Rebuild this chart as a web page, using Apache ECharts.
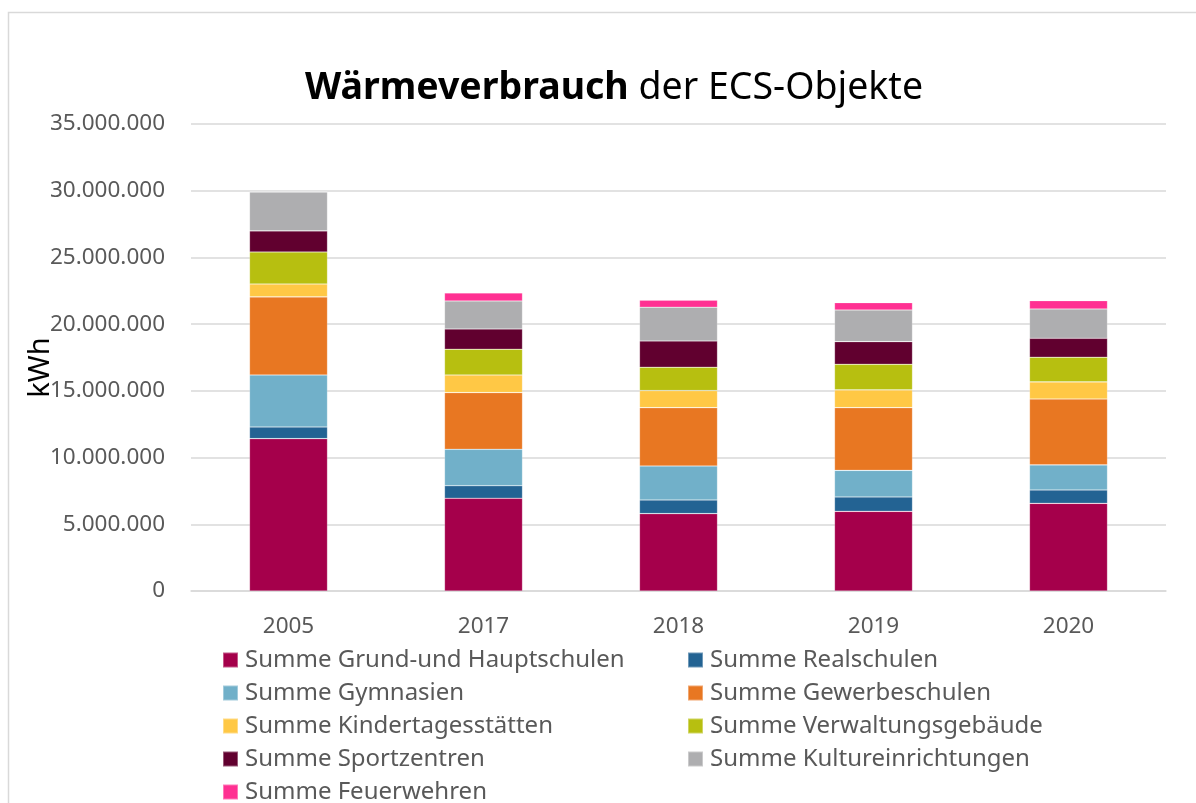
<!DOCTYPE html>
<html>
<head>
<meta charset="utf-8">
<script src="https://cdn.jsdelivr.net/npm/echarts@6/dist/echarts.min.js"></script>
<style>
  html, body { margin: 0; padding: 0; background: #fff; }
  #chart { width: 1196px; height: 803px; }
</style>
</head>
<body>
<div id="chart"></div>
<script>
// Jahre
var years = ['2005', '2017', '2018', '2019', '2020'];

// Werte in kWh
var grundHaupt   = [11420000, 6950000, 5800000, 5970000, 6570000];
var realschulen  = [870000, 940000, 1020000, 1080000, 1000000];
var gymnasien    = [3900000, 2730000, 2550000, 1990000, 1880000];
var gewerbe      = [5850000, 4250000, 4370000, 4700000, 4940000];
var kita         = [970000, 1320000, 1280000, 1330000, 1280000];
var verwaltung   = [2400000, 1930000, 1750000, 1920000, 1850000];
var sport        = [1580000, 1520000, 1970000, 1700000, 1420000];
var kultur       = [2920000, 2100000, 2530000, 2370000, 2200000];
var feuerwehr    = [0, 600000, 520000, 550000, 620000];

var yTicks = { min: 0, max: 35000000, interval: 5000000 };

var seriesDefs = [
  { name: 'Summe Grund-und Hauptschulen', data: grundHaupt, color: '#A5004B' },
  { name: 'Summe Realschulen', data: realschulen, color: '#236393' },
  { name: 'Summe Gymnasien', data: gymnasien, color: '#71B0C9' },
  { name: 'Summe Gewerbeschulen', data: gewerbe, color: '#E87722' },
  { name: 'Summe Kindertagesstätten', data: kita, color: '#FFC845' },
  { name: 'Summe Verwaltungsgebäude', data: verwaltung, color: '#B7BF10' },
  { name: 'Summe Sportzentren', data: sport, color: '#61002F' },
  { name: 'Summe Kultureinrichtungen', data: kultur, color: '#AEAEB0' },
  { name: 'Summe Feuerwehren', data: feuerwehr, color: '#FF3092' }
];

var font = '"Noto Sans", "Open Sans", sans-serif';

function fmt(v) {
  return String(v).replace(/\B(?=(\d{3})+(?!\d))/g, '.');
}

var chart = echarts.init(document.getElementById('chart'));

var legendStyle = {
  orient: 'vertical',
  height: 200,
  padding: 0,
  itemWidth: 15,
  itemHeight: 15,
  itemGap: 9,
  icon: 'rect',
  textStyle: { color: '#595959', fontSize: 24, fontFamily: font, padding: [0, 0, 0, 2] }
};

var option = {
  backgroundColor: '#fff',
  animation: false,
  title: {
    text: '{b|Wärmeverbrauch}{r| der ECS-Objekte}',
    left: 609,
    textAlign: 'center',
    top: 64,
    textStyle: {
      rich: {
        b: { fontSize: 37.5, fontWeight: 'bold', color: '#000', fontFamily: font },
        r: { fontSize: 37.5, fontWeight: 'normal', color: '#000', fontFamily: font }
      }
    }
  },
  graphic: [{
    type: 'polyline',
    shape: { points: [[8.5, 810], [8.5, 12.5], [1200, 12.5]] },
    style: { stroke: '#d9d9d9', lineWidth: 1.5, fill: null },
    silent: true
  }],
  legend: [
    Object.assign({
      left: 222, top: 648,
      data: ['Summe Grund-und Hauptschulen', 'Summe Gymnasien', 'Summe Kindertagesstätten', 'Summe Sportzentren', 'Summe Feuerwehren']
    }, legendStyle),
    Object.assign({
      left: 687, top: 648,
      data: ['Summe Realschulen', 'Summe Gewerbeschulen', 'Summe Verwaltungsgebäude', 'Summe Kultureinrichtungen']
    }, legendStyle)
  ],
  grid: { left: 191, right: 30, top: 124, bottom: 212, containLabel: false },
  xAxis: {
    type: 'category',
    data: years,
    axisLine: { show: true, lineStyle: { color: '#d9d9d9', width: 1.5 } },
    axisTick: { show: false },
    axisLabel: { color: '#595959', fontSize: 22.5, fontFamily: font, margin: 24 }
  },
  yAxis: {
    type: 'value',
    min: yTicks.min,
    max: yTicks.max,
    interval: yTicks.interval,
    name: 'kWh',
    nameLocation: 'middle',
    nameGap: 136,
    nameMoveOverlap: false,
    nameRotate: 90,
    nameTextStyle: { color: '#000', fontSize: 29, fontFamily: font, padding: [0, 20, 0, 0] },
    axisLine: { show: false },
    axisTick: { show: false },
    axisLabel: { color: '#595959', fontSize: 22.5, fontFamily: font, margin: 26, formatter: fmt },
    splitLine: { lineStyle: { color: '#d9d9d9', width: 1.5 } }
  },
  series: seriesDefs.map(function (s) {
    return {
      name: s.name,
      type: 'bar',
      stack: 'total',
      barWidth: 78,
      data: s.data,
      itemStyle: { color: s.color, borderColor: 'rgba(255,255,255,0.35)', borderWidth: 0.6 }
    };
  })
};

chart.setOption(option);
</script>
</body>
</html>
